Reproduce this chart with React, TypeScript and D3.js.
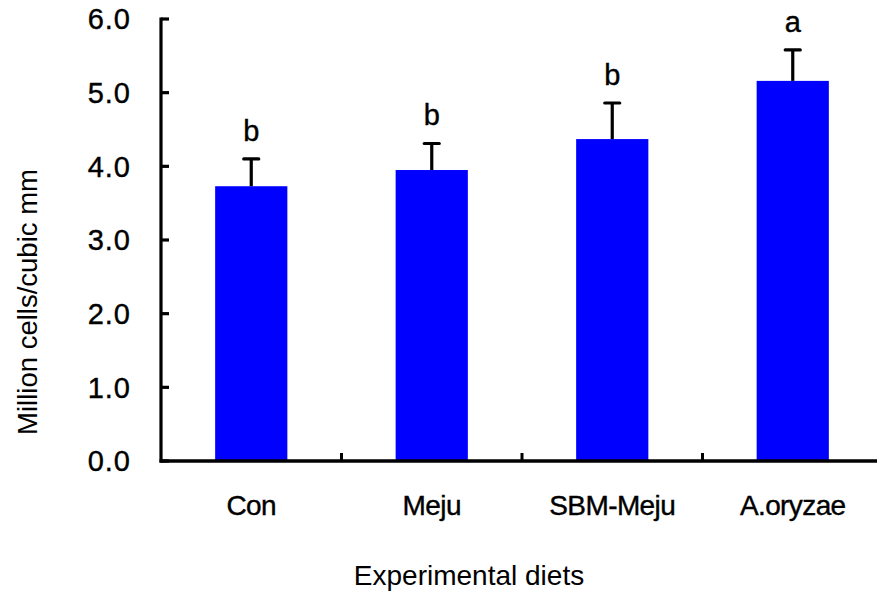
import React from "react";
import * as d3 from "d3";

const categories = ["Con", "Meju", "SBM-Meju", "A.oryzae"];
const means = [3.73, 3.95, 4.37, 5.16];
const errors = [0.37, 0.36, 0.49, 0.42];
const letters = ["b", "b", "b", "a"];
const yTicks = [0, 1, 2, 3, 4, 5, 6];

const W = 877;
const H = 595;
const FONT = "'Liberation Sans', Arial, sans-serif";

export default function App() {
  const x = d3
    .scaleBand<string>()
    .domain(categories)
    .range([161, 883])
    .paddingInner(0.6)
    .paddingOuter(0.3);
  const y = d3.scaleLinear().domain([0, 6]).range([461, 19]);
  const step = x.step();
  const bw = x.bandwidth();
  const y0 = y(0);

  // slightly heavier labels: thin outline on the glyphs
  const heavy = { stroke: "#000", strokeWidth: 0.4 };

  return (
    <svg
      width={W}
      height={H}
      style={{ position: "absolute", left: 0, top: 0, background: "#fff" }}
      fontFamily={FONT}
    >
      <rect width={W} height={H} fill="#fff" />
      {/* bars */}
      {categories.map((c, i) => (
        <rect
          key={c}
          x={x(c)}
          y={y(means[i])}
          width={bw}
          height={y0 - y(means[i])}
          fill="#0000ff"
        />
      ))}
      {/* upper error bars */}
      {categories.map((c, i) => {
        const cx = (x(c) as number) + bw / 2;
        const top = y(means[i] + errors[i]);
        return (
          <g key={c} stroke="#000" strokeWidth={3.2}>
            <line x1={cx} x2={cx} y1={y(means[i])} y2={top} />
            <line x1={cx - 7.5} x2={cx + 7.5} y1={top} y2={top} strokeLinecap="round" />
          </g>
        );
      })}
      {/* significance letters */}
      {categories.map((c, i) => (
        <text
          key={c}
          x={(x(c) as number) + bw / 2}
          y={y(means[i] + errors[i]) - 18}
          textAnchor="middle"
          fontSize={29}
          fill="#000"
          {...heavy}
        >
          {letters[i]}
        </text>
      ))}
      {/* y axis */}
      <line x1={161} x2={161} y1={y(6) - 1.5} y2={y0 + 1.5} stroke="#000" strokeWidth={3.2} />
      {yTicks.map((t) => (
        <g key={t}>
          <line x1={161} x2={169} y1={y(t)} y2={y(t)} stroke="#000" strokeWidth={3.2} />
          <text
            x={131}
            y={y(t)}
            dy="0.36em"
            textAnchor="end"
            fontSize={29}
            fill="#000"
            letterSpacing={1}
            {...heavy}
          >
            {t.toFixed(1)}
          </text>
        </g>
      ))}
      {/* x axis */}
      <line x1={159.5} x2={W} y1={y0} y2={y0} stroke="#000" strokeWidth={3.6} />
      {categories.slice(0, -1).map((c) => {
        const bx = (x(c) as number) + bw / 2 + step / 2;
        return (
          <line key={c} x1={bx} x2={bx} y1={y0} y2={y0 - 8} stroke="#000" strokeWidth={3} />
        );
      })}
      {categories.map((c) => (
        <text
          key={c}
          x={(x(c) as number) + bw / 2}
          y={515}
          textAnchor="middle"
          fontSize={28}
          fill="#000"
          letterSpacing={-0.6}
          {...heavy}
        >
          {c}
        </text>
      ))}
      {/* axis titles */}
      <text x={469} y={585} textAnchor="middle" fontSize={28} fill="#000">
        Experimental diets
      </text>
      <text
        transform={`translate(37,302) rotate(-90)`}
        textAnchor="middle"
        fontSize={27.5}
        fill="#000"
      >
        Million cells/cubic mm
      </text>
    </svg>
  );
}
